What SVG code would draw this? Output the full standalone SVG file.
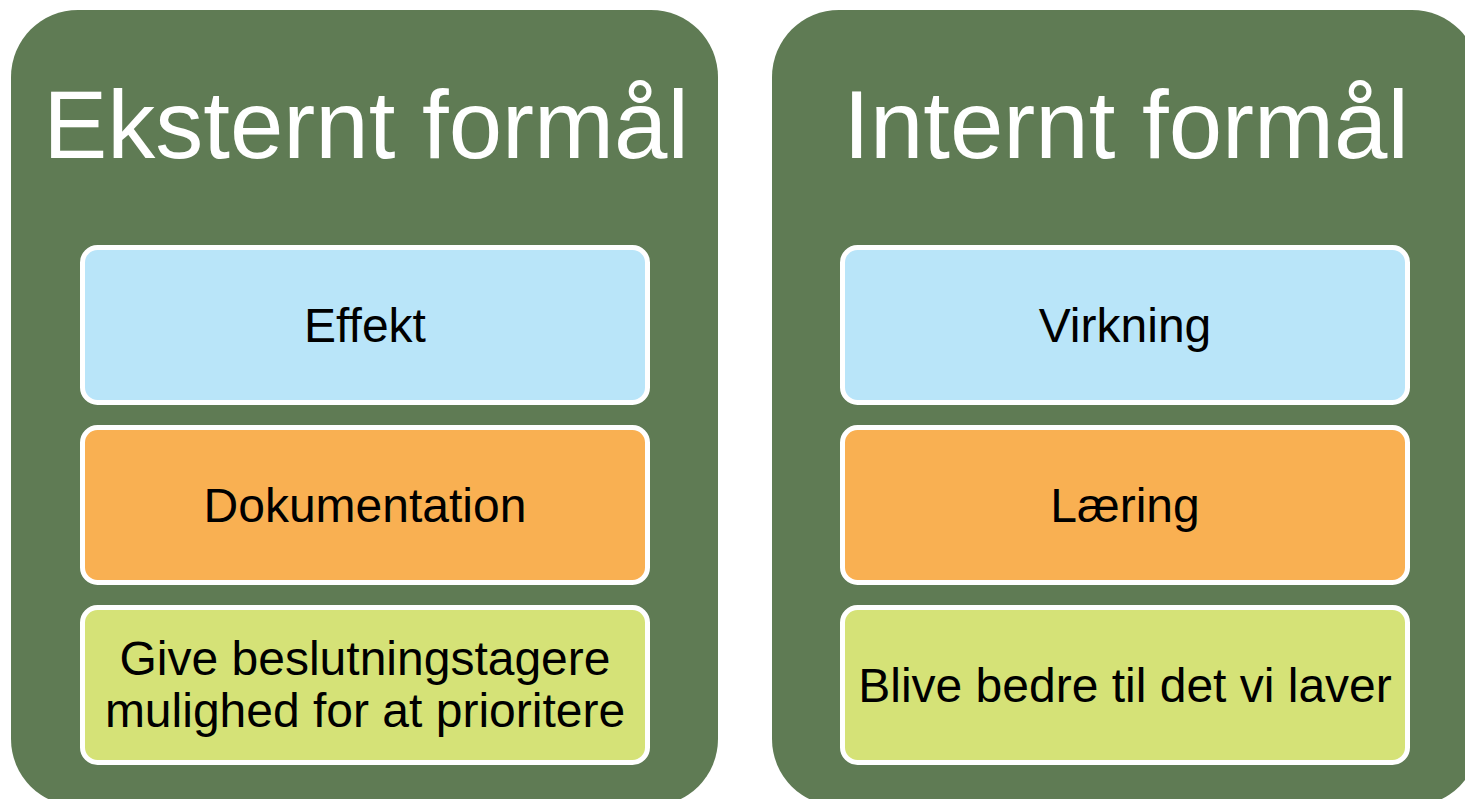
<svg xmlns="http://www.w3.org/2000/svg" width="1465" height="799" viewBox="0 0 1465 799">
  <style>
    .panel { fill: #5F7B54; }
    .title { font-family: "Liberation Sans", Arial, sans-serif; font-size: 96px; fill: #FFFFFF; text-anchor: middle; }
    .item { stroke: #FFFFFF; stroke-width: 5; }
    .blue { fill: #B9E5F9; }
    .orange { fill: #F9B052; }
    .lime { fill: #D5E277; }
    .label { font-family: "Liberation Sans", Arial, sans-serif; font-size: 48px; fill: #000000; text-anchor: middle; }
  </style>
  <rect width="1465" height="799" fill="#FFFFFF"/>

  <!-- Left panel: external purpose -->
  <g id="eksternt">
    <rect class="panel" x="11" y="10" width="707" height="796" rx="67" ry="67"/>
    <text class="title" x="366" y="158">Eksternt formål</text>
  </g>
  <g id="effekt">
    <rect class="item blue" x="82.5" y="247.5" width="565" height="155" rx="15" ry="15"/>
    <text class="label" x="365" y="342">Effekt</text>
  </g>
  <g id="dokumentation">
    <rect class="item orange" x="82.5" y="427.5" width="565" height="155" rx="15" ry="15"/>
    <text class="label" x="365" y="522">Dokumentation</text>
  </g>
  <g id="prioritere">
    <rect class="item lime" x="82.5" y="607.5" width="565" height="155" rx="15" ry="15"/>
    <text class="label" x="365" y="675">Give beslutningstagere</text>
    <text class="label" x="365" y="727">mulighed for at prioritere</text>
  </g>

  <!-- Right panel: internal purpose -->
  <g id="internt">
    <rect class="panel" x="772" y="10" width="707" height="796" rx="67" ry="67"/>
    <text class="title" x="1126" y="158">Internt formål</text>
  </g>
  <g id="virkning">
    <rect class="item blue" x="842.5" y="247.5" width="565" height="155" rx="15" ry="15"/>
    <text class="label" x="1125" y="342">Virkning</text>
  </g>
  <g id="laering">
    <rect class="item orange" x="842.5" y="427.5" width="565" height="155" rx="15" ry="15"/>
    <text class="label" x="1125" y="522">Læring</text>
  </g>
  <g id="bedre">
    <rect class="item lime" x="842.5" y="607.5" width="565" height="155" rx="15" ry="15"/>
    <text class="label" x="1125" y="702">Blive bedre til det vi laver</text>
  </g>

  <g id="connectors"/>
</svg>
